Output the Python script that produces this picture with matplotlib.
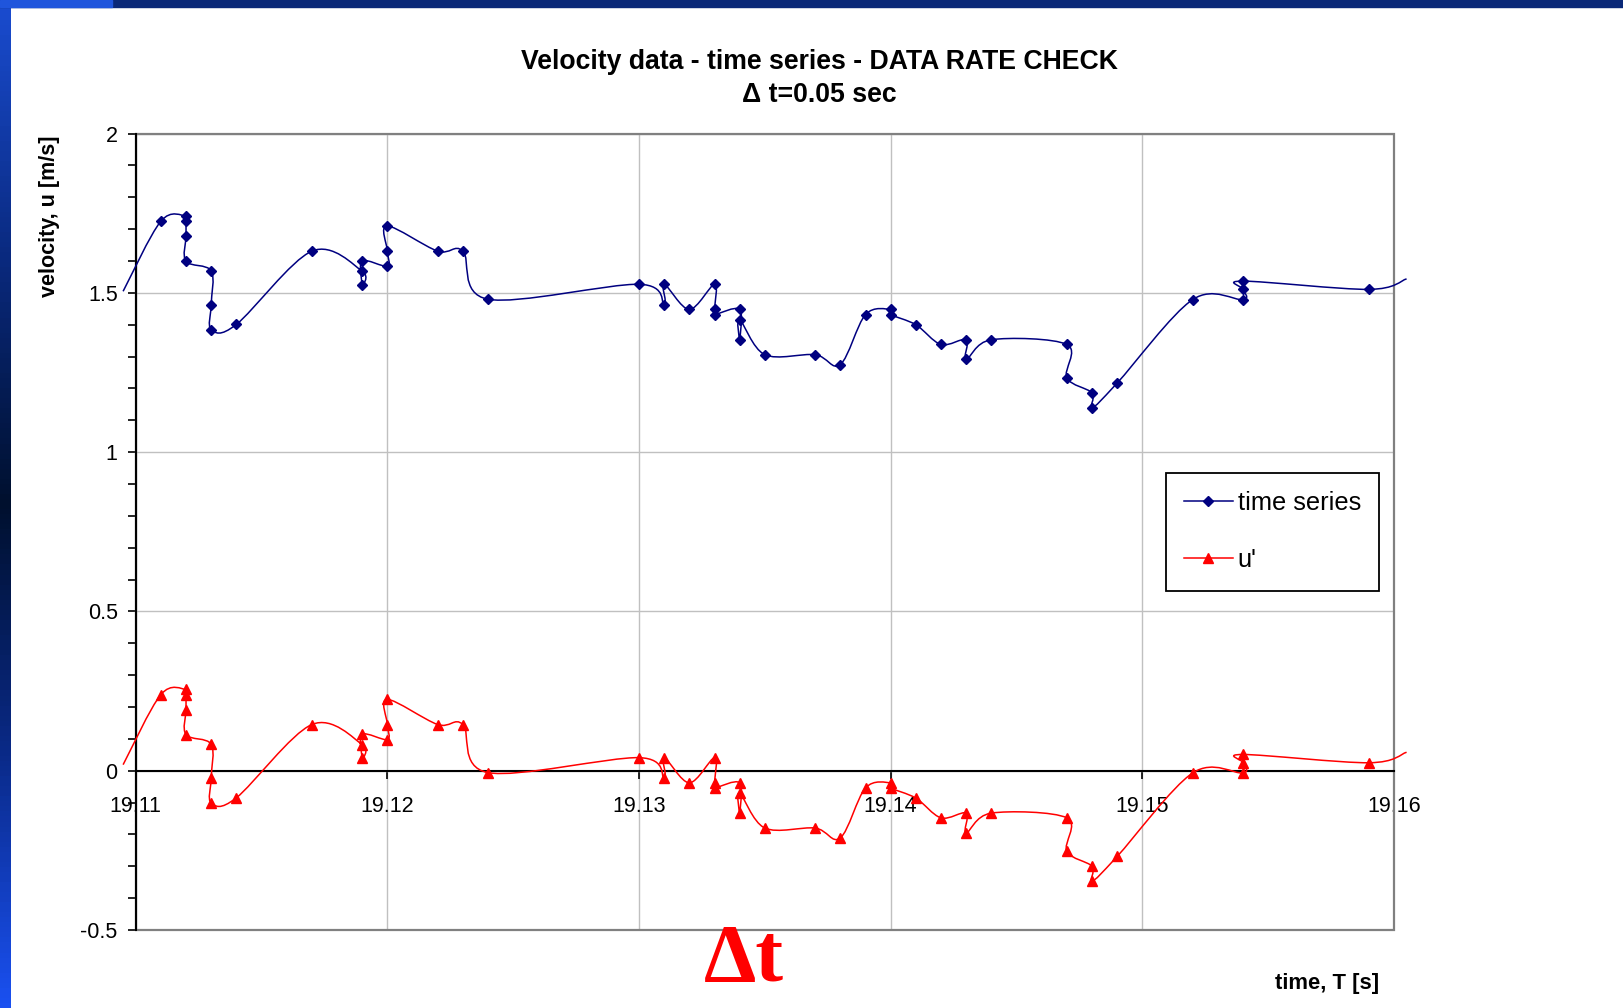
import numpy as np
import matplotlib
matplotlib.use("Agg")
import matplotlib.pyplot as plt
from matplotlib.path import Path
from matplotlib.patches import PathPatch, Rectangle
from matplotlib.lines import Line2D
from matplotlib.colors import LinearSegmentedColormap
from matplotlib.ticker import MultipleLocator

plt.rcParams["font.family"] = ["Liberation Sans", "DejaVu Sans"]

# data (first and last points lie just outside the axis range)
time = [19.1095, 19.111, 19.112, 19.112, 19.112, 19.112, 19.113, 19.113, 19.113,
        19.114, 19.117, 19.119, 19.119, 19.119, 19.120, 19.120, 19.120, 19.122,
        19.123, 19.124, 19.130, 19.131, 19.131, 19.132, 19.133, 19.133, 19.133,
        19.134, 19.134, 19.134, 19.135, 19.137, 19.138, 19.139, 19.140, 19.140,
        19.141, 19.142, 19.143, 19.143, 19.144, 19.147, 19.147, 19.148, 19.148,
        19.149, 19.152, 19.154, 19.154, 19.154, 19.159, 19.1605]

u = [1.505, 1.725, 1.741, 1.725, 1.678, 1.599, 1.569, 1.463, 1.385, 1.401, 1.631,
     1.568, 1.526, 1.600, 1.584, 1.631, 1.710, 1.631, 1.631, 1.480, 1.527, 1.463,
     1.527, 1.448, 1.527, 1.448, 1.432, 1.448, 1.353, 1.416, 1.306, 1.306, 1.275,
     1.432, 1.448, 1.432, 1.400, 1.338, 1.353, 1.291, 1.353, 1.338, 1.233, 1.186,
     1.139, 1.217, 1.479, 1.479, 1.511, 1.537, 1.511, 1.544]

u_prime = [0.019, 0.239, 0.255, 0.239, 0.192, 0.113, 0.083, -0.023, -0.101, -0.085,
           0.145, 0.082, 0.040, 0.114, 0.098, 0.145, 0.224, 0.145, 0.145, -0.006,
           0.041, -0.023, 0.041, -0.038, 0.041, -0.038, -0.054, -0.038, -0.133,
           -0.070, -0.180, -0.180, -0.211, -0.054, -0.038, -0.054, -0.086, -0.148,
           -0.133, -0.195, -0.133, -0.148, -0.253, -0.300, -0.347, -0.269, -0.007,
           -0.007, 0.025, 0.051, 0.025, 0.058]

x_ticks = [19.11, 19.12, 19.13, 19.14, 19.15, 19.16]
x_labels = ["19.11", "19.12", "19.13", "19.14", "19.15", "19.16"]
y_ticks = [-0.5, 0, 0.5, 1, 1.5, 2]
y_labels = ["-0.5", "0", "0.5", "1", "1.5", "2"]

navy = "#000080"
red = "#ff0000"


def smooth_path(xs, ys):
    # excel style smoothed line (cubic bezier through the points)
    pts = np.column_stack([xs, ys])
    n = len(pts)
    verts = [pts[0]]
    codes = [Path.MOVETO]
    for i in range(n - 1):
        p_prev = pts[max(i - 1, 0)]
        p0 = pts[i]
        p1 = pts[i + 1]
        p_next = pts[min(i + 2, n - 1)]
        verts += [p0 + (p1 - p_prev) / 6, p1 - (p_next - p0) / 6, p1]
        codes += [Path.CURVE4] * 3
    return Path(verts, codes)


fig = plt.figure(figsize=(16.24, 10.08), dpi=100)
fig.patch.set_facecolor("white")

# slide background bits: left gradient strip and top band
strip = fig.add_axes([0, 0, 11 / 1624, 1])
cmap = LinearSegmentedColormap.from_list(
    "strip", [(0, "#1a4cd0"), (0.25, "#0a2a80"), (0.5, "#00102e"), (0.75, "#0a2a88"), (1, "#1a50f0")])
strip.imshow(np.linspace(0, 1, 200).reshape(-1, 1), aspect="auto", cmap=cmap)
strip.axis("off")
fig.add_artist(Rectangle((0, 1 - 7 / 1008), 1, 7 / 1008, transform=fig.transFigure,
                         color="#0a2878", zorder=5))
fig.add_artist(Rectangle((0, 1 - 7 / 1008), 112 / 1624, 7 / 1008, transform=fig.transFigure,
                         color="#1f55dc", zorder=6))

ax = fig.add_axes([135.7 / 1624, 78 / 1008, (1394 - 135.7) / 1624, (930 - 133.6) / 1008])
ax.set_xlim(19.11, 19.16)
ax.set_ylim(-0.5, 2)

ax.add_patch(PathPatch(smooth_path(time, u), fill=False, ec=navy, lw=1.1,
                       clip_on=False, zorder=3))
ax.add_patch(PathPatch(smooth_path(time, u_prime), fill=False, ec=red, lw=1.1,
                       clip_on=False, zorder=3))
ax.plot(time[1:-1], u[1:-1], linestyle="none", marker="D", ms=5.6,
        color=navy, zorder=4)
ax.plot(time[1:-1], u_prime[1:-1], linestyle="none", marker="^", ms=7.5,
        color=red, zorder=4)

ax.set_xticks(x_ticks)
ax.set_xticklabels(x_labels)
ax.set_yticks(y_ticks)
ax.set_yticklabels(y_labels)
ax.yaxis.set_minor_locator(MultipleLocator(0.1))
ax.tick_params(axis="y", which="both", direction="out", length=6, width=1.2,
               pad=7, labelsize=15.5)
ax.tick_params(axis="x", direction="out", length=6, width=1.2, pad=12,
               labelsize=15.5)

ax.grid(True, color="#c0c0c0", lw=1.0)
ax.set_axisbelow(True)

for s in ["top", "right"]:
    ax.spines[s].set_visible(False)
ax.spines["bottom"].set_position(("data", 0))
ax.spines["bottom"].set_linewidth(1.5)
ax.spines["left"].set_linewidth(1.5)
ax.add_patch(Rectangle((0, 0), 1, 1, transform=ax.transAxes, fill=False,
                       ec="#808080", lw=1.6, clip_on=False, zorder=1.5))

handles = [
    Line2D([], [], color=navy, marker="D", ms=5.5, lw=1.1, label="time series"),
    Line2D([], [], color=red, marker="^", ms=7.5, lw=1.1, label="u'"),
]
leg = ax.legend(handles=handles, loc="upper left",
                bbox_to_anchor=(1166 / 1624, 1 - 473 / 1008),
                bbox_transform=fig.transFigure, fontsize=18.3, fancybox=False,
                edgecolor="black", framealpha=1, borderpad=0.72,
                handlelength=1.9, handletextpad=0.2, labelspacing=1.3,
                borderaxespad=0)
leg.get_frame().set_linewidth(1.3)

# titles and axis labels
fig.text(819 / 1624, 1 - 69 / 1008, "Velocity data - time series - DATA RATE CHECK",
         ha="center", va="baseline", fontsize=19.2, weight="bold")
fig.text(819 / 1624, 1 - 102 / 1008, "\u0394 t=0.05 sec",
         ha="center", va="baseline", fontsize=19.2, weight="bold")
fig.text(50 / 1624, 1 - 216 / 1008, "velocity, u [m/s]", rotation=90,
         ha="center", va="center", fontsize=15.5, weight="bold")
fig.text(1379 / 1624, 1 - 984 / 1008, "time, T [s]", ha="right", va="center",
         fontsize=15.8, weight="bold")
fig.text(704 / 1624, 1 - 981 / 1008, "\u0394t", color=red, fontsize=60,
         family="Liberation Serif", weight="bold", ha="left", va="baseline")

fig.savefig("out.png", dpi=100)
